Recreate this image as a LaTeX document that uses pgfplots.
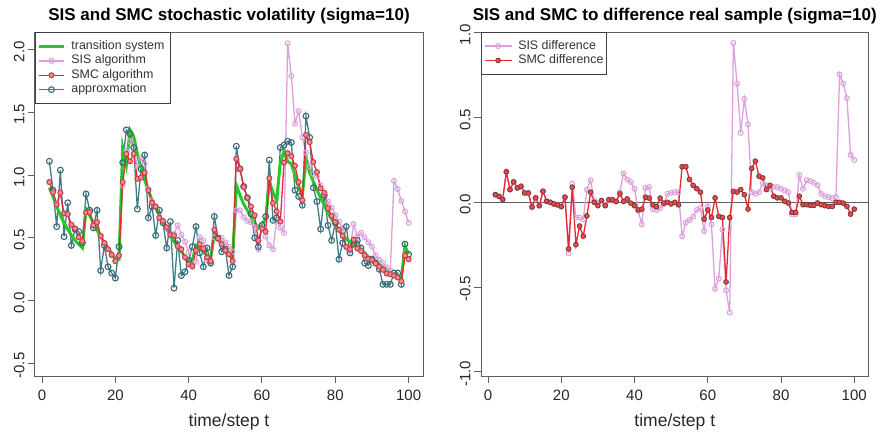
\documentclass[border=0pt]{standalone}
\usepackage{fontspec}
\setmainfont{Liberation Sans}
\usepackage{pgfplots}
\usepackage{pgfplotstable}
\pgfplotsset{compat=1.18}

\definecolor{truecol}{RGB}{40,200,40}
\definecolor{siscol}{RGB}{221,160,221}
\definecolor{smccol}{RGB}{232,40,50}
\definecolor{smcedge}{RGB}{200,60,70}
\definecolor{smcfill}{RGB}{240,140,150}
\definecolor{smcdark}{RGB}{120,55,50}
\definecolor{apxcol}{RGB}{66,124,138}
\definecolor{framecol}{RGB}{95,95,95}

% t, transition system, SIS estimate, SMC estimate, approximation
\pgfplotstableread{
t   g     sis    smc    apx
2   0.90  0.945  0.945  1.11
3   0.83  0.865  0.865  0.88
4   0.75  0.77   0.766  0.59
5   0.68  0.86   0.86   1.04
6   0.62  0.695  0.695  0.51
7   0.57  0.69   0.69   0.78
8   0.52  0.605  0.605  0.44
9   0.48  0.57   0.575  0.57
10  0.45  0.505  0.505  0.55
11  0.42  0.475  0.475  0.46
12  0.73  0.70   0.703  0.85
13  0.68  0.706  0.706  0.72
14  0.62  0.60   0.60   0.58
15  0.56  0.625  0.625  0.72
16  0.51  0.516  0.516  0.24
17  0.46  0.46   0.46   0.44
18  0.42  0.41   0.41   0.27
19  0.38  0.365  0.365  0.22
20  0.34  0.315  0.315  0.18
21  0.33  0.36   0.36   0.43
22  1.22  0.92   0.945  1.10
23  1.08  1.19   1.169  1.36
24  1.36  1.27   1.11   1.33
25  1.31  1.22   1.17   1.22
26  1.17  1.07   0.97   0.73
27  1.06  1.135  0.98   1.05
28  0.96  1.09   1.02   1.16
29  0.88  0.89   0.88   0.66
30  0.80  0.795  0.78   0.75
31  0.74  0.75   0.75   0.52
32  0.68  0.665  0.66   0.72
33  0.62  0.635  0.635  0.62
34  0.57  0.58   0.585  0.42
35  0.52  0.525  0.525  0.63
36  0.47  0.53   0.52   0.10
37  0.43  0.60   0.435  0.48
38  0.39  0.525  0.41   0.20
39  0.35  0.47   0.345  0.23
40  0.31  0.39   0.29   0.32
41  0.32  0.27   0.275  0.43
42  0.44  0.31   0.40   0.59
43  0.42  0.505  0.45   0.38
44  0.39  0.48   0.415  0.27
45  0.36  0.32   0.345  0.42
46  0.34  0.295  0.315  0.30
47  0.54  0.505  0.565  0.67
48  0.50  0.49   0.495  0.50
49  0.45  0.50   0.45   0.39
50  0.41  0.465  0.40   0.41
51  0.37  0.43   0.37   0.20
52  0.33  0.39   0.315  0.27
53  0.92  0.72   1.13   1.23
54  0.84  0.72   1.05   1.05
55  0.77  0.665  0.905  0.91
56  0.72  0.635  0.82   0.82
57  0.67  0.625  0.75   0.69
58  0.62  0.585  0.68   0.50
59  0.58  0.41   0.48   0.43
60  0.62  0.595  0.575  0.60
61  0.64  0.51   0.55   0.67
62  0.95  0.44   0.976  1.12
63  0.86  0.41   0.777  0.64
64  0.80  0.64   0.71   0.66
65  1.10  0.58   0.63   1.22
66  1.19  0.54   1.10   1.24
67  1.11  2.05   1.175  1.27
68  1.09  1.79   1.15   1.26
69  1.00  1.41   1.075  0.88
70  0.90  1.51   0.945  0.83
71  0.84  1.30   0.80   0.76
72  1.12  1.18   1.32   1.47
73  1.02  1.07   1.263  1.30
74  0.95  1.01   1.104  0.90
75  0.88  0.99   1.024  0.79
76  0.82  0.92   0.895  0.57
77  0.76  0.84   0.86   0.84
78  0.70  0.79   0.736  0.60
79  0.65  0.74   0.676  0.48
80  0.60  0.68   0.626  0.62
81  0.56  0.63   0.566  0.33
82  0.52  0.58   0.516  0.46
83  0.49  0.42   0.43   0.59
84  0.47  0.40   0.41   0.38
85  0.45  0.61   0.486  0.45
86  0.43  0.51   0.416  0.48
87  0.41  0.54   0.396  0.42
88  0.38  0.505  0.362  0.30
89  0.35  0.465  0.332  0.28
90  0.33  0.43   0.326  0.33
91  0.31  0.36   0.296  0.30
92  0.29  0.325  0.27   0.25
93  0.27  0.30   0.246  0.13
94  0.24  0.265  0.216  0.13
95  0.21  0.24   0.21   0.13
96  0.20  0.955  0.20   0.22
97  0.19  0.89   0.185  0.22
98  0.18  0.795  0.156  0.13
99  0.43  0.71   0.36   0.45
100 0.37  0.62   0.33   0.37
}\volatility

% t, SIS minus real sample, SMC minus real sample
\pgfplotstableread{
t   sisd    smcd
2   0.045   0.045
3   0.035   0.035
4   0.02    0.016
5   0.18    0.18
6   0.075   0.075
7   0.12    0.12
8   0.085   0.085
9   0.09    0.095
10  0.055   0.055
11  0.055   0.055
12  -0.03   -0.027
13  0.026   0.026
14  -0.02   -0.02
15  0.065   0.065
16  0.006   0.006
17  0.0     0.0
18  -0.01   -0.01
19  -0.015  -0.015
20  -0.025  -0.025
21  0.03    0.03
22  -0.30   -0.275
23  0.11    0.089
24  -0.09   -0.25
25  -0.09   -0.14
26  -0.10   -0.20
27  0.075   -0.08
28  0.13    0.06
29  0.01    0.0
30  -0.005  -0.02
31  0.01    0.01
32  -0.015  -0.02
33  0.015   0.015
34  0.01    0.015
35  0.005   0.005
36  0.06    0.05
37  0.17    0.005
38  0.135   0.02
39  0.12    -0.005
40  0.08    -0.02
41  -0.05   -0.045
42  -0.13   -0.04
43  0.085   0.03
44  0.09    0.025
45  -0.04   -0.015
46  -0.045  -0.025
47  -0.035  0.025
48  -0.01   -0.005
49  0.05    0.0
50  0.055   -0.01
51  0.06    0.0
52  0.06    -0.015
53  -0.20   0.21
54  -0.12   0.21
55  -0.105  0.135
56  -0.085  0.10
57  -0.045  0.08
58  -0.035  0.06
59  -0.17   -0.10
60  -0.025  -0.045
61  -0.13   -0.09
62  -0.51   0.026
63  -0.45   -0.083
64  -0.16   -0.09
65  -0.52   -0.47
66  -0.65   -0.09
67  0.94    0.065
68  0.70    0.06
69  0.41    0.075
70  0.61    0.045
71  0.46    -0.04
72  0.06    0.20
73  0.05    0.243
74  0.06    0.154
75  0.11    0.144
76  0.10    0.075
77  0.08    0.10
78  0.09    0.036
79  0.09    0.026
80  0.08    0.026
81  0.07    0.006
82  0.06    -0.004
83  -0.07   -0.06
84  -0.07   -0.06
85  0.16    0.036
86  0.08    -0.014
87  0.13    -0.014
88  0.125   -0.018
89  0.115   -0.018
90  0.10    -0.004
91  0.05    -0.014
92  0.035   -0.02
93  0.03    -0.024
94  0.025   -0.024
95  0.03    0.0
96  0.755   0.0
97  0.70    -0.005
98  0.615   -0.024
99  0.28    -0.07
100 0.25    -0.04
}\differences

\pgfplotsset{
  panel/.style={
    scale only axis, height=344bp, anchor=south west,
    axis line style={framecol, line width=1bp},
    tick style={framecol, line width=1bp},
    tick align=outside, major tick length=7bp,
    xtick pos=bottom, ytick pos=left,
    xmin=-1.92, xmax=103.92,
    xtick={0,20,40,60,80,100},
    xticklabels={0,20,40,60,80,100},
    ticklabel style={font=\fontsize{15bp}{18bp}\selectfont, text=black!85},
    xticklabel style={yshift=-3bp},
    yticklabel style={rotate=90, anchor=south, xshift=-2bp},
    xlabel={time/step t},
    xlabel style={font=\fontsize{17.5bp}{20bp}\selectfont, text=black!85, yshift=-7bp},
    title style={font=\bfseries\fontsize{17bp}{20bp}\selectfont, yshift=-2bp},
    legend cell align=left,
    legend style={at={(0,1)}, anchor=north west, draw=black!75, line width=0.9bp,
      font=\fontsize{12.4bp}{14.4bp}\selectfont, text=black!80,
      nodes={inner sep=0bp, text height=9bp, text depth=3bp},
      row sep=2.4bp, column sep=6bp},
    legend image code/.code={\draw[mark repeat=2,mark phase=2]
      plot coordinates {(0bp,0bp) (12.5bp,0bp) (25bp,0bp)};},
  },
  sisline/.style={siscol, line width=1.3bp, mark=o, mark size=2.5bp,
      mark options={siscol, line width=1bp}},
  smcline/.style={smccol, line width=1.3bp, mark=*, mark size=2.5bp,
      mark options={draw=smcedge, fill=smcfill, line width=1bp}},
  apxline/.style={apxcol, line width=1.3bp, mark=o, mark size=2.9bp,
      mark options={apxcol!85!black, line width=1.1bp}},
  trueline/.style={truecol, line width=3bp},
}

\begin{document}
\begin{tikzpicture}
\path[use as bounding box] (0,0) rectangle (885bp,-432bp);

% left panel: estimated volatility paths
\begin{axis}[panel, at={(35bp,-376bp)}, width=388bp,
  title={SIS and SMC stochastic volatility (sigma=10)},
  ymin=-0.60, ymax=2.14,
  ytick={-0.5,0,0.5,1,1.5,2},
  yticklabels={-0.5,0.0,0.5,1.0,1.5,2.0},
  legend style={inner xsep=2bp, inner ysep=8bp}]
  \addlegendimage{trueline}
  \addlegendentry{transition system\hspace*{4bp}}
  \addlegendimage{sisline}
  \addlegendentry{SIS algorithm}
  \addlegendimage{smcline}
  \addlegendentry{SMC algorithm}
  \addlegendimage{apxline}
  \addlegendentry{approxmation}
  \addplot[sisline, forget plot] table[x=t, y=sis] {\volatility};
  \addplot[apxline, forget plot] table[x=t, y=apx] {\volatility};
  \addplot[trueline, forget plot] table[x=t, y=g] {\volatility};
  \addplot[smcline, forget plot] table[x=t, y=smc] {\volatility};
\end{axis}

% right panel: deviation from the real sample
\begin{axis}[panel, at={(481bp,-376bp)}, width=387.6bp,
  title={SIS and SMC to difference real sample (sigma=10)},
  ymin=-1.025, ymax=1.005,
  ytick={-1,-0.5,0,0.5,1},
  yticklabels={-1.0,-0.5,0.0,0.5,1.0},
  legend style={inner xsep=2.5bp, inner ysep=7.6bp},
  legend image code/.code={\draw[mark repeat=2,mark phase=2]
      plot coordinates {(0bp,0bp) (13.5bp,0bp) (27bp,0bp)};}]
  \addplot[framecol, line width=1.2bp, forget plot] coordinates {(-1.92,0) (103.92,0)};
  \addplot[siscol, line width=1.3bp, mark=o, mark size=2.5bp,
      mark options={siscol, line width=1bp}] table[x=t, y=sisd] {\differences};
  \addlegendentry{SIS difference}
  \addplot[smccol, line width=1.3bp, mark=*, mark size=2.4bp,
      mark options={draw=smcdark, fill=smccol!85!white, line width=0.8bp}]
      table[x=t, y=smcd] {\differences};
  \addlegendentry{SMC difference}
\end{axis}
\end{tikzpicture}
\end{document}
